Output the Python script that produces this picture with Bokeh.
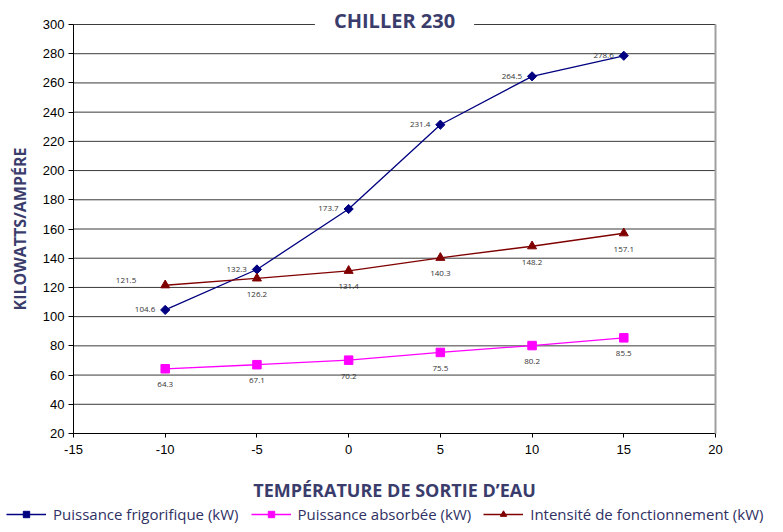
import math
from bokeh.plotting import figure
from bokeh.models import Range1d, LinearAxis, Label, Legend, LegendItem, FixedTicker
from bokeh.core.properties import value
from bokeh.embed import file_html
from bokeh.resources import INLINE

# ---- data ----
temps = [-10, -5, 0, 5, 10, 15]
frigo = [104.6, 132.3, 173.7, 231.4, 264.5, 278.6]
absorb = [64.3, 67.1, 70.2, 75.5, 80.2, 85.5]
intens = [121.5, 126.2, 131.4, 140.3, 148.2, 157.1]
series_names = ["Puissance frigorifique (kW)", "Puissance absorbée (kW)",
                "Intensité de fonctionnement (kW)"]
x_ticks = [-15, -10, -5, 0, 5, 10, 15, 20]
y_ticks = [20, 40, 60, 80, 100, 120, 140, 160, 180, 200, 220, 240, 260, 280, 300]
title_text = "CHILLER 230"
x_title = "TEMPÉRATURE DE SORTIE D’EAU"
y_title = "KILOWATTS/AMPÉRE"

NAVY = "#000080"
MAGENTA = "#FF00FF"
DARKRED = "#800000"
TITLE_COL = "#3a3c6c"
LBL_FONT = value("Open Sans")

# ---- layout (canvas pixels of the data area) ----
W, H = 775, 524
FL, FR, FT, FB = 73, 715, 24, 433
x0, x1 = x_ticks[0], x_ticks[-1]
y0, y1 = y_ticks[0], y_ticks[-1]
xpx = (FR - FL) / (x1 - x0)
ypx = (FB - FT) / (y1 - y0)
xr = Range1d(x0 - FL / xpx, x1 + (W - FR) / xpx)
yr = Range1d(y0 - (H - FB) / ypx, y1 + FT / ypx)

p = figure(width=W, height=H, x_range=xr, y_range=yr,
           output_backend="svg", toolbar_location=None,
           min_border=0)
p.outline_line_color = None
p.background_fill_color = "white"
p.border_fill_color = "white"
p.grid.visible = False

# axes drawn at the data-area edges
for ax in (p.xaxis, p.yaxis):
    ax.axis_line_color = "black"
    ax.axis_line_width = 1
    ax.major_tick_line_color = "black"
    ax.major_tick_in = 0
    ax.minor_tick_line_color = None
    ax.major_label_text_font = "Liberation Sans"
    ax.major_label_text_font_size = "13px"
    ax.major_label_text_color = "black"
    ax.axis_label_text_font = "Open Sans"
    ax.axis_label_text_font_style = "bold"
    ax.axis_label_text_color = TITLE_COL
p.xaxis.ticker = FixedTicker(ticks=x_ticks)
p.yaxis.ticker = FixedTicker(ticks=y_ticks)
p.xaxis.major_label_overrides = {t: str(t) for t in x_ticks}
p.xaxis.bounds = (x0, x1)
p.yaxis.bounds = (y0, y1)
p.xaxis.fixed_location = y0
p.yaxis.fixed_location = x0
p.xaxis.major_tick_out = 4
p.yaxis.major_tick_out = 5
p.xaxis.major_label_standoff = 7
p.yaxis.major_label_standoff = 4
p.xaxis.axis_label = x_title
p.yaxis.axis_label = y_title
p.xaxis.axis_label_text_font_size = "18px"
p.yaxis.axis_label_text_font_size = "16px"
p.xaxis.axis_label_standoff = 21
p.yaxis.axis_label_standoff = 9

# right border
right = LinearAxis(ticker=FixedTicker(ticks=[]), bounds=(y0, y1), fixed_location=x1,
                   axis_line_color="#a0a0a0", axis_line_width=2,
                   major_tick_line_color=None, minor_tick_line_color=None,
                   major_label_text_font_size="0px")
p.add_layout(right, "right")

# horizontal grid lines, limited to the data area
p.segment(x0=[x0] * len(y_ticks), x1=[x1] * len(y_ticks), y0=y_ticks, y1=y_ticks,
          line_color="#3a3a3a", line_width=1, level="underlay")

# series
l1 = p.line(temps, frigo, line_color=NAVY, line_width=1.3)
s1 = p.scatter(temps, frigo, marker="square", angle=math.pi / 4, size=6.5, color=NAVY)
l2 = p.line(temps, absorb, line_color=MAGENTA, line_width=1.3)
s2 = p.scatter(temps, absorb, marker="square", size=8.5, color=MAGENTA)
l3 = p.line(temps, intens, line_color=DARKRED, line_width=1.3)
s3 = p.scatter(temps, intens, marker="triangle", size=9, color=DARKRED)

fmt = lambda vals: [f"{v:.1f}" for v in vals]
common = dict(text_font=LBL_FONT, text_font_size="8px", text_color="#333333")
p.text(temps, frigo, text=fmt(frigo), x_offset=-10, y_offset=0,
       text_align="right", text_baseline="middle", **common)
p.text(temps, absorb, text=fmt(absorb), x_offset=0, y_offset=16,
       text_align="center", text_baseline="middle", **common)
p.text(temps[:1], intens[:1], text=fmt(intens[:1]), x_offset=-29, y_offset=-5,
       text_align="right", text_baseline="middle", **common)
p.text(temps[1:], intens[1:], text=fmt(intens[1:]), x_offset=0, y_offset=16,
       text_align="center", text_baseline="middle", **common)

# title, breaking the top line
title = Label(x=(x0 + x1) / 2, y=y1, text=title_text,
              text_align="center", text_baseline="middle", y_offset=4,
              text_font="Open Sans", text_font_style="bold", text_font_size="20px",
              text_color=TITLE_COL, background_fill_color="white",
              padding=(19, 2))
p.add_layout(title)

legend = Legend(items=[LegendItem(label=series_names[0], renderers=[l1, s1]),
                       LegendItem(label=series_names[1], renderers=[l2, s2]),
                       LegendItem(label=series_names[2], renderers=[l3, s3])],
                orientation="horizontal", location=(6, 0),
                glyph_width=40, glyph_height=16, label_height=16,
                label_standoff=7, spacing=12, padding=0, margin=0,
                border_line_color=None, background_fill_alpha=0,
                label_text_font="Open Sans", label_text_font_size="15px",
                label_text_color="#2f3163")
p.add_layout(legend, "center")

open("out.html", "w").write(file_html(p, INLINE))
